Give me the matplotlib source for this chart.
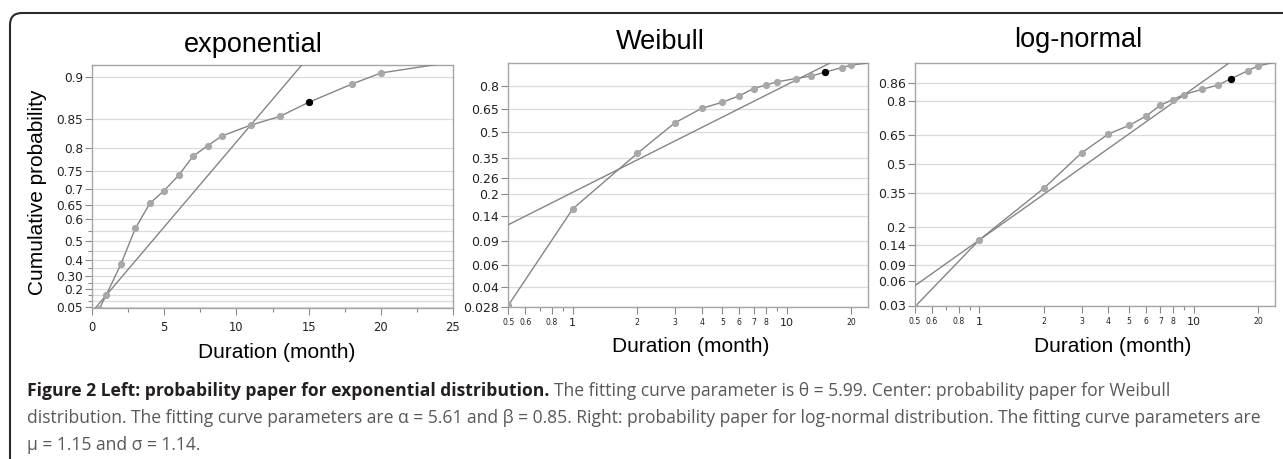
import math
import numpy as np
import matplotlib
matplotlib.use('Agg')
import matplotlib.pyplot as plt
from matplotlib.ticker import FixedLocator, FixedFormatter, NullFormatter, NullLocator
from matplotlib.patches import FancyBboxPatch
from matplotlib.transforms import IdentityTransform

W, H = 1283, 459

# ---------------- data ----------------
duration = [0.5, 1, 2, 3, 4, 5, 6, 7, 8, 9, 11, 13, 15, 18, 20, 24]
cum_prob = [0.029, 0.157, 0.374, 0.559, 0.655, 0.696, 0.738, 0.783, 0.804,
            0.822, 0.840, 0.853, 0.872, 0.893, 0.904, 0.912]
highlight_x = [15]
highlight_p = [0.872]

# fitted straight lines on each probability paper (end points)
exp_fit_x = [0.0, 15.0]
exp_fit_p = [0.0, 0.918]
weib_fit_x = [0.5, 25.0]
weib_fit_p = [0.120, 0.972]
logn_fit_x = [0.5, 25.0]
logn_fit_p = [0.053, 0.965]

titles = ['exponential', 'Weibull', 'log-normal']

exp_yticks = [0.05, 0.2, 0.30, 0.4, 0.5, 0.6, 0.65, 0.7, 0.75, 0.8, 0.85, 0.9]
exp_ylabels = ['0.05', '0.2', '0.30', '0.4', '0.5', '0.6', '0.65', '0.7', '0.75', '0.8', '0.85', '0.9']
exp_yminor = [0.1, 0.15, 0.25, 0.35, 0.45, 0.55]
exp_xticks = [0, 5, 10, 15, 20, 25]
exp_xminor = [2.5, 7.5, 12.5, 17.5, 22.5]

weib_yticks = [0.028, 0.04, 0.06, 0.09, 0.14, 0.2, 0.26, 0.35, 0.5, 0.65, 0.8]
weib_ylabels = ['0.028', '0.04', '0.06', '0.09', '0.14', '0.2', '0.26', '0.35', '0.5', '0.65', '0.8']
logn_yticks = [0.03, 0.06, 0.09, 0.14, 0.2, 0.35, 0.5, 0.65, 0.8, 0.86]
logn_ylabels = ['0.03', '0.06', '0.09', '0.14', '0.2', '0.35', '0.5', '0.65', '0.8', '0.86']
log_xticks = [0.5, 0.6, 0.8, 1, 2, 3, 4, 5, 6, 7, 8, 10, 20]
log_xlabels = ['0.5', '0.6', '0.8', '1', '2', '3', '4', '5', '6', '7', '8', '10', '20']
log_xminor = [0.7, 0.9, 9]
big_xlabels = ['1', '10']

# ---------------- scales ----------------
def exp_fwd(p):
    p = np.clip(np.asarray(p, float), 1e-9, 1 - 1e-9)
    return -np.log1p(-p)

def exp_inv(y):
    return -np.expm1(-np.asarray(y, float))

def weib_fwd(p):
    p = np.clip(np.asarray(p, float), 1e-9, 1 - 1e-9)
    return np.log(-np.log1p(-p))

def weib_inv(y):
    return -np.expm1(-np.exp(np.asarray(y, float)))

_a = [-3.969683028665376e+01, 2.209460984245205e+02, -2.759285104469687e+02,
      1.383577518672690e+02, -3.066479806614716e+01, 2.506628277459239e+00]
_b = [-5.447609879822406e+01, 1.615858368580409e+02, -1.556989798598866e+02,
      6.680131188771972e+01, -1.328068155288572e+01]
_c = [-7.784894002430293e-03, -3.223964580411365e-01, -2.400758277161838e+00,
      -2.549732539343734e+00, 4.374664141464968e+00, 2.938163982698783e+00]
_d = [7.784695709041462e-03, 3.224671290700398e-01, 2.445134137142996e+00,
      3.754408661907416e+00]


def norm_ppf(p):
    arr = np.asarray(p, float)
    shape = arr.shape
    p = np.clip(np.atleast_1d(arr).ravel(), 1e-12, 1 - 1e-12)
    q = np.full_like(p, np.nan)
    plow = 0.02425
    lo = p < plow
    hi = p > 1 - plow
    mid = ~(lo | hi) & np.isfinite(p)
    if mid.any():
        qq = p[mid] - 0.5
        r = qq * qq
        q[mid] = (((((_a[0]*r+_a[1])*r+_a[2])*r+_a[3])*r+_a[4])*r+_a[5])*qq / \
                 (((((_b[0]*r+_b[1])*r+_b[2])*r+_b[3])*r+_b[4])*r+1)
    if lo.any():
        qq = np.sqrt(-2*np.log(p[lo]))
        q[lo] = (((((_c[0]*qq+_c[1])*qq+_c[2])*qq+_c[3])*qq+_c[4])*qq+_c[5]) / \
                ((((_d[0]*qq+_d[1])*qq+_d[2])*qq+_d[3])*qq+1)
    if hi.any():
        qq = np.sqrt(-2*np.log1p(-p[hi]))
        q[hi] = -(((((_c[0]*qq+_c[1])*qq+_c[2])*qq+_c[3])*qq+_c[4])*qq+_c[5]) / \
                ((((_d[0]*qq+_d[1])*qq+_d[2])*qq+_d[3])*qq+1)
    return q.reshape(shape)


_verf = np.vectorize(math.erf, otypes=[float])


def norm_cdf(z):
    return 0.5 * (1 + _verf(np.asarray(z, float) / math.sqrt(2)))


# ---------------- figure ----------------
fig = plt.figure(figsize=(W / 100, H / 100), dpi=100)


def rect(l, r, t, b):
    return [l / W, 1 - b / H, (r - l) / W, (b - t) / H]


ax1 = fig.add_axes(rect(92, 453, 65.3, 308.3))
ax2 = fig.add_axes(rect(508.3, 868.3, 63.3, 307.3))
ax3 = fig.add_axes(rect(915, 1275, 63.3, 305.5))

LINE = '#858585'
DOT = '#a8a8a8'
SPINE = '#a5a5a5'
GRID = '#dadada'
TXT = '#222222'


def style(ax):
    for s in ax.spines.values():
        s.set_color(SPINE)
        s.set_linewidth(1.0)
    ax.set_axisbelow(True)
    ax.grid(True, which='both', axis='y', color=GRID, lw=0.9)
    ax.tick_params(which='both', color='#8a8a8a', labelcolor=TXT, width=0.8)
    ax.tick_params(which='major', length=5)
    ax.tick_params(which='minor', length=3)


def draw_data(ax, fx, fp):
    ax.plot(fx, fp, color=LINE, lw=1.0, zorder=3)
    ax.plot(duration, cum_prob, color=LINE, lw=1.0, marker='o', ms=4.2,
            mfc=DOT, mec=DOT, markevery=slice(0, len(duration) - 1), zorder=4)
    ax.plot(highlight_x, highlight_p, 'o', color='black', ms=4.2, zorder=5)


# exponential
ax1.set_yscale('function', functions=(exp_fwd, exp_inv))
draw_data(ax1, exp_fit_x, exp_fit_p)
ax1.set_xlim(0, 25)
ax1.set_ylim(0.035, 0.911)
ax1.yaxis.set_major_locator(FixedLocator(exp_yticks))
ax1.yaxis.set_major_formatter(FixedFormatter(exp_ylabels))
ax1.yaxis.set_minor_locator(FixedLocator(exp_yminor))
ax1.yaxis.set_minor_formatter(NullFormatter())
ax1.xaxis.set_major_locator(FixedLocator(exp_xticks))
ax1.xaxis.set_minor_locator(FixedLocator(exp_xminor))
style(ax1)
ax1.tick_params(axis='y', labelsize=8.7, pad=1.5)
ax1.tick_params(axis='x', labelsize=8.3, pad=4)

# Weibull and log-normal
for ax, fwd, inv, fx, fp, yl, yt, ylab in [
        (ax2, weib_fwd, weib_inv, weib_fit_x, weib_fit_p, (0.028, 0.911), weib_yticks, weib_ylabels),
        (ax3, norm_ppf, norm_cdf, logn_fit_x, logn_fit_p, (0.03, 0.9097), logn_yticks, logn_ylabels)]:
    ax.set_xscale('log')
    ax.set_yscale('function', functions=(fwd, inv))
    draw_data(ax, fx, fp)
    ax.set_xlim(0.5, 24)
    ax.set_ylim(*yl)
    ax.yaxis.set_major_locator(FixedLocator(yt))
    ax.yaxis.set_major_formatter(FixedFormatter(ylab))
    ax.yaxis.set_minor_locator(NullLocator())
    ax.xaxis.set_major_locator(FixedLocator(log_xticks))
    ax.xaxis.set_major_formatter(FixedFormatter(log_xlabels))
    ax.xaxis.set_minor_locator(FixedLocator(log_xminor))
    ax.xaxis.set_minor_formatter(NullFormatter())
    style(ax)
    ax.tick_params(axis='y', labelsize=9, pad=1.5)
    ax.tick_params(axis='x', labelsize=5.6, pad=3)

fig.canvas.draw()
for ax in (ax2, ax3):
    for lab in ax.get_xticklabels():
        if lab.get_text() in big_xlabels:
            lab.set_fontsize(8)

# titles and axis labels
TFONT = ['Liberation Sans', 'DejaVu Sans']
for t, (x, y) in zip(titles, [(253, 45), (660, 42), (1078, 40)]):
    fig.text(x / W, 1 - y / H, t, ha='center', va='center', fontsize=19.5,
             family=TFONT, color='black')
fig.text(38 / W, 1 - 192.5 / H, 'Cumulative probability', rotation=90,
         ha='center', va='center', fontsize=15, family=TFONT, color='black')
for x, y in [(277, 353), (691, 346), (1113, 346)]:
    fig.text(x / W, 1 - y / H, 'Duration (month)', ha='center', va='center',
             fontsize=15, family=TFONT, color='black')

# border
border = FancyBboxPatch((10, -30), 1320, H - 13 + 30,
                        boxstyle='round,pad=0,rounding_size=12',
                        transform=IdentityTransform(), fill=False,
                        ec='#2a2a2a', lw=1.5)
fig.add_artist(border)

# caption
renderer = fig.canvas.get_renderer()
CFONT = ['Open Sans', 'DejaVu Sans']
bold1 = 'Figure 2 Left: probability paper for exponential distribution.'
norm1 = 'The fitting curve parameter is θ = 5.99. Center: probability paper for Weibull'
line2 = ('distribution. The fitting curve parameters are α = 5.61 and β = 0.85. Right: '
         'probability paper for log-normal distribution. The fitting curve parameters are')
line3 = 'μ = 1.15 and σ = 1.14.'


def tw(s, size, weight):
    t = fig.text(0.1, 0.5, s, fontsize=size, fontweight=weight, family=CFONT)
    bb = t.get_window_extent(renderer)
    t.remove()
    return bb.width


ref = 10.0
sp_ref = tw('a b', ref, 'normal') - tw('ab', ref, 'normal')
w1 = tw(bold1, ref, 'bold') + sp_ref + tw(norm1, ref, 'normal')
w2 = tw(line2, ref, 'normal')
size = ref * min((1238 - 27) / w1, (1266 - 27) / w2)
wb = tw(bold1, size, 'bold')
sp = tw('a b', size, 'normal') - tw('ab', size, 'normal')

x0 = 27
fig.text(x0 / W, 1 - 396 / H, bold1, fontsize=size, fontweight='bold',
         family=CFONT, color='#231f20', va='baseline', ha='left')
fig.text((x0 + wb + sp) / W, 1 - 396 / H, norm1, fontsize=size,
         family=CFONT, color='#58595b', va='baseline', ha='left')
fig.text(x0 / W, 1 - 423 / H, line2, fontsize=size, family=CFONT,
         color='#58595b', va='baseline', ha='left')
fig.text(x0 / W, 1 - 450 / H, line3, fontsize=size, family=CFONT,
         color='#58595b', va='baseline', ha='left')

fig.savefig('out.png', dpi=100)
